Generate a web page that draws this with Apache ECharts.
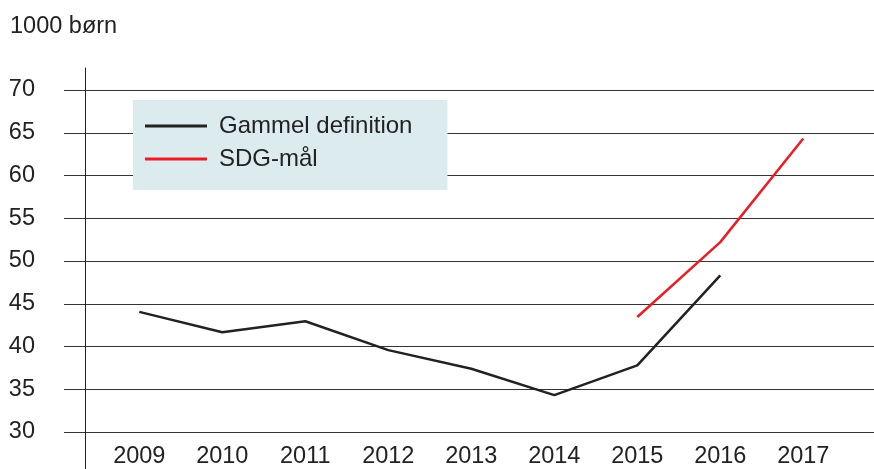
<!DOCTYPE html>
<html>
<head>
<meta charset="utf-8">
<script src="https://cdn.jsdelivr.net/npm/echarts@6/dist/echarts.min.js"></script>
<style>html,body{margin:0;padding:0;background:#fff}#c{width:874px;height:469px}</style>
</head>
<body>
<div id="c"></div>
<script>
const years = ['2009','2010','2011','2012','2013','2014','2015','2016','2017'];
const gammel = [43.9, 41.5, 42.8, 39.4, 37.2, 34.1, 37.6, 48.2, null];
const sdg = [null, null, null, null, null, null, 43.3, 52.1, 64.3];
const yTicks = {min: 30, max: 70, interval: 5};
const unitLabel = '1000 børn';
const seriesNames = ['Gammel definition', 'SDG-mål'];

const FONT = 'Liberation Sans, Arial, sans-serif';
const chart = echarts.init(document.getElementById('c'), null, {renderer: 'canvas'});
chart.setOption({
  animation: false,
  backgroundColor: '#fff',
  textStyle: {fontFamily: FONT},
  title: {
    text: unitLabel, left: 5, top: 10,
    textStyle: {fontSize: 23.5, fontWeight: 'normal', color: '#222', fontFamily: FONT}
  },
  legend: {
    orient: 'vertical', left: 133, top: 100,
    backgroundColor: '#dcebee',
    padding: [14, 35, 19, 12],
    itemGap: 9, itemWidth: 62, itemHeight: 3,
    icon: 'rect',
    textStyle: {fontSize: 24, color: '#222', fontFamily: FONT, padding: [0, 0, 0, 7]},
    data: seriesNames
  },
  grid: [
    {left: 97.8, right: 29.2, top: 90, bottom: 37, containLabel: false},
    {left: 64, right: 0, top: 90, bottom: 37, containLabel: false},
    {left: 85, width: 1, top: 68, bottom: 0, containLabel: false}
  ],
  xAxis: [
    {type: 'category', gridIndex: 0, data: years, boundaryGap: true,
     axisLine: {show: false}, axisTick: {show: false}, splitLine: {show: false},
     axisLabel: {fontSize: 23.5, color: '#222', margin: 15, fontFamily: FONT, interval: 0}},
    {type: 'value', gridIndex: 1, show: false, min: 0, max: 1},
    {type: 'value', gridIndex: 2, show: false, min: 0, max: 1}
  ],
  yAxis: [
    {type: 'value', gridIndex: 0, show: false, min: yTicks.min, max: yTicks.max, interval: yTicks.interval},
    {type: 'value', gridIndex: 1, min: yTicks.min, max: yTicks.max, interval: yTicks.interval,
     axisLine: {show: false}, axisTick: {show: false},
     splitLine: {show: true, lineStyle: {color: '#333', width: 1}},
     axisLabel: {fontSize: 23.5, color: '#222', margin: 29, fontFamily: FONT}},
    {type: 'value', gridIndex: 2, min: 0, max: 1,
     axisLine: {show: true, lineStyle: {color: '#222', width: 1}},
     axisTick: {show: false}, axisLabel: {show: false}, splitLine: {show: false}}
  ],
  series: [
    {name: seriesNames[0], type: 'line', xAxisIndex: 0, yAxisIndex: 0, data: gammel,
     symbol: 'none', connectNulls: false, color: '#222',
     lineStyle: {color: '#222', width: 2.5}},
    {name: seriesNames[1], type: 'line', xAxisIndex: 0, yAxisIndex: 0, data: sdg,
     symbol: 'none', connectNulls: false, color: '#ec1c24',
     lineStyle: {color: '#ec1c24', width: 2.5}}
  ]
});
</script>
</body>
</html>
